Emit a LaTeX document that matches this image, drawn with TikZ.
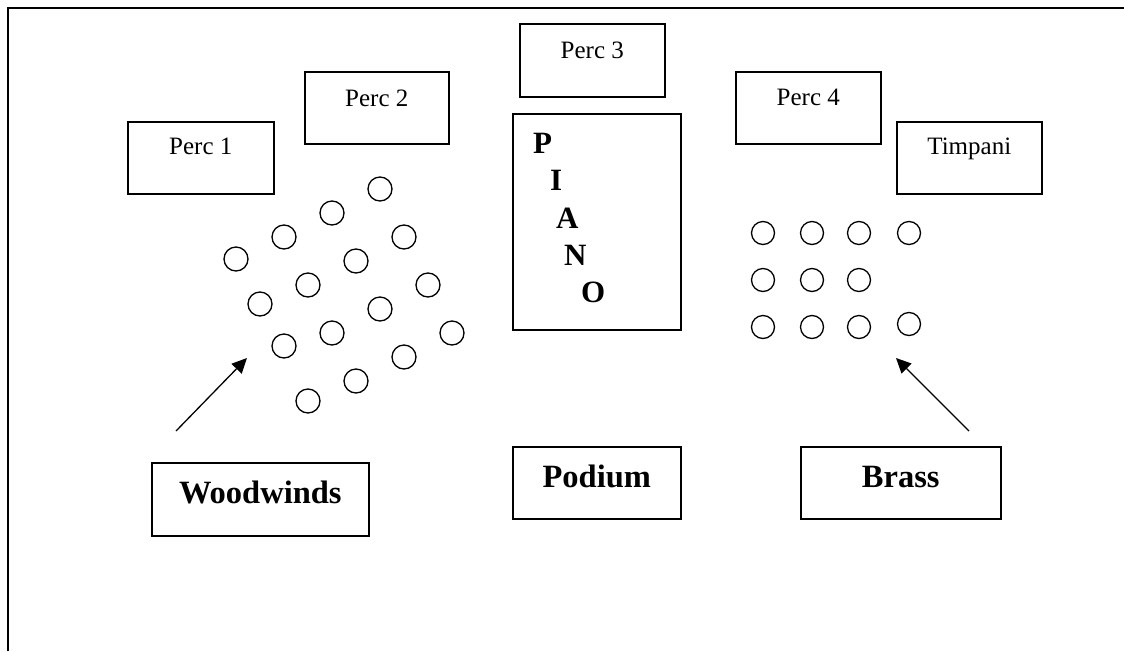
\documentclass[tikz,border=0pt]{standalone}
\usepackage{fontspec}
\setmainfont{Liberation Serif}
\usetikzlibrary{arrows.meta}
\begin{document}
\begin{tikzpicture}[x=1pt,y=-1pt,
  box/.style={draw, line width=1.6pt, inner sep=0pt, anchor=north west},
  seat/.style={draw, circle, line width=1.3pt, minimum size=24pt, inner sep=0pt},
  small/.style={font=\fontsize{25}{29}\selectfont, anchor=base, inner sep=0pt},
  big/.style={font=\fontsize{32.5}{37}\selectfont\bfseries, anchor=base, inner sep=0pt},
  letter/.style={font=\fontsize{31}{36}\selectfont\bfseries, anchor=base west, inner sep=0pt},
  arr/.style={line width=1.3pt, -{Triangle[length=15pt,width=14pt]}}]
\useasboundingbox (0,0) rectangle (1124,651);
% page frame (top and left edges only)
\draw[line width=2pt] (8,651) -- (8,7.5) -- (1124,7.5);

% percussion and piano boxes
\node[box, minimum width=146pt, minimum height=72pt] (p1) at (127,121) {};
\node[box, minimum width=144pt, minimum height=72pt] (p2) at (304,71) {};
\node[box, minimum width=145pt, minimum height=73pt] (p3) at (519,23) {};
\node[box, minimum width=145pt, minimum height=72pt] (p4) at (735,71) {};
\node[box, minimum width=145pt, minimum height=72pt] (timp) at (896,121) {};
\node[box, minimum width=168pt, minimum height=216pt] (piano) at (512,113) {};

\node[small] (p1t) at ([yshift=-33pt]p1.north) {Perc 1};
\node[small] (p2t) at ([yshift=-35pt]p2.north) {Perc 2};
\node[small] (p3t) at ([yshift=-35pt]p3.north) {Perc 3};
\node[small] (p4t) at ([yshift=-34pt]p4.north) {Perc 4};
\node[small] (timpt) at ([yshift=-33pt]timp.north) {Timpani};

\node[letter] (lP) at (533,153) {P};
\node[letter] (lI) at (550,190) {I};
\node[letter] (lA) at (556,228) {A};
\node[letter] (lN) at (564,265) {N};
\node[letter] (lO) at (581,302) {O};

% section label boxes
\node[box, minimum width=217pt, minimum height=73pt] (ww) at (151,462) {};
\node[box, minimum width=168pt, minimum height=72pt] (pod) at (512,446) {};
\node[box, minimum width=200pt, minimum height=72pt] (brass) at (800,446) {};
\node[big] (wwt) at ([yshift=-41pt]ww.north) {Woodwinds};
\node[big] (podt) at ([yshift=-41pt]pod.north) {Podium};
\node[big] (brasst) at ([yshift=-41pt]brass.north) {Brass};

% woodwind seats
\foreach \n/\x/\y in {1/380/189, 2/332/213, 3/284/237, 4/236/259,
                      5/404/237, 6/356/261, 7/308/285, 8/260/304,
                      9/428/285, 10/380/309, 11/332/333, 12/284/346,
                      13/452/333, 14/404/357, 15/356/381, 16/308/401}
  \node[seat] (w\n) at (\x,\y) {};

% brass seats
\foreach \n/\x/\y in {1/763/233, 2/812/233, 3/859/233, 4/909/233,
                      5/763/280, 6/812/280, 7/859/280,
                      8/763/327, 9/812/327, 10/859/327, 11/909/324}
  \node[seat, minimum size=23pt] (b\n) at (\x,\y) {};

% pointers
\coordinate (wwtail) at (176,431);
\coordinate (wwtip) at (247,358);
\coordinate (brtail) at (969,431);
\coordinate (brtip) at (896,358);
\draw[arr] (wwtail) -- (wwtip);
\draw[arr] (brtail) -- (brtip);
\end{tikzpicture}
\end{document}
